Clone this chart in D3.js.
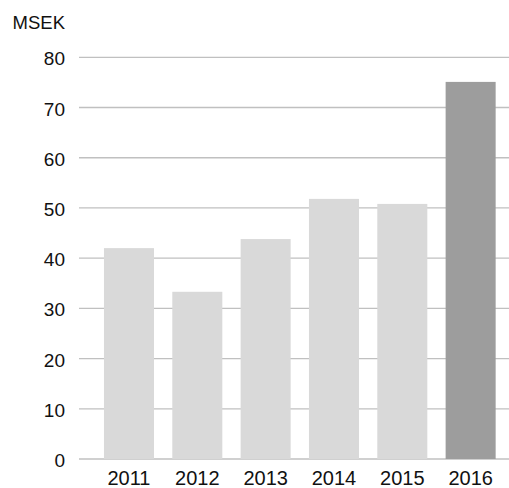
<!DOCTYPE html>
<html>
<head>
<meta charset="utf-8">
<script src="https://cdn.jsdelivr.net/npm/d3@7"></script>
<style>
  body { margin: 0; background: #fff; }
  text { font-family: "Liberation Sans", Arial, sans-serif; fill: #111; }
</style>
</head>
<body>
<div class="chart"></div>
<script>
const years = ["2011", "2012", "2013", "2014", "2015", "2016"];
const values = [42.0, 33.3, 43.8, 51.8, 50.8, 75.1];
const yTicks = [0, 10, 20, 30, 40, 50, 60, 70, 80];
const unitLabel = "MSEK";

const w = 509;
const h = 488;
const margin = { top: 57.3, bottom: 29, left: 79, right: 0 };

const xScale = d3
  .scaleBand()
  .domain(years)
  .range([94.8, 504.8])
  .paddingInner(0.268)
  .paddingOuter(0.134);
const yScale = d3
  .scaleLinear()
  .domain([0, 80])
  .range([h - margin.bottom, margin.top]);

const svg = d3
  .select(".chart")
  .append("svg")
  .attr("width", w)
  .attr("height", h);

// gridlines
svg.append("g")
  .selectAll("line")
  .data(yTicks)
  .enter()
  .append("line")
  .attr("x1", margin.left)
  .attr("x2", w - margin.right)
  .attr("y1", d => yScale(d))
  .attr("y2", d => yScale(d))
  .attr("stroke", "#c0c0c0")
  .attr("stroke-width", 1.3);

const yAxis = d3.axisLeft(yScale).tickValues(yTicks).tickSize(0).tickPadding(0);
svg.append("g")
  .attr("transform", "translate(65, 0)")
  .call(yAxis)
  .call(g => g.select(".domain").remove())
  .selectAll("text")
  .attr("dy", "0.4em")
  .style("font-size", "19px")
  .style("font-family", "Liberation Sans, Arial, sans-serif")
  .attr("fill", "#111");

svg.selectAll("rect.bar")
  .data(values)
  .enter()
  .append("rect")
  .attr("class", "bar")
  .attr("x", (d, i) => xScale(years[i]))
  .attr("y", d => yScale(d))
  .attr("width", xScale.bandwidth())
  .attr("height", d => yScale(0) - yScale(d))
  .attr("fill", (d, i) => i === years.length - 1 ? "#9d9d9d" : "#d9d9d9");

const xAxis = d3.axisBottom(xScale).tickSize(0).tickPadding(0);
svg.append("g")
  .attr("transform", `translate(0, ${h - 3})`)
  .call(xAxis)
  .call(g => g.select(".domain").remove())
  .selectAll("text")
  .attr("y", 0)
  .attr("dy", "0")
  .style("font-size", "20px")
  .style("font-family", "Liberation Sans, Arial, sans-serif")
  .attr("fill", "#111");

svg.append("text")
  .attr("x", 65)
  .attr("y", 29)
  .attr("text-anchor", "end")
  .style("font-size", "18.5px")
  .text(unitLabel);
</script>
</body>
</html>
